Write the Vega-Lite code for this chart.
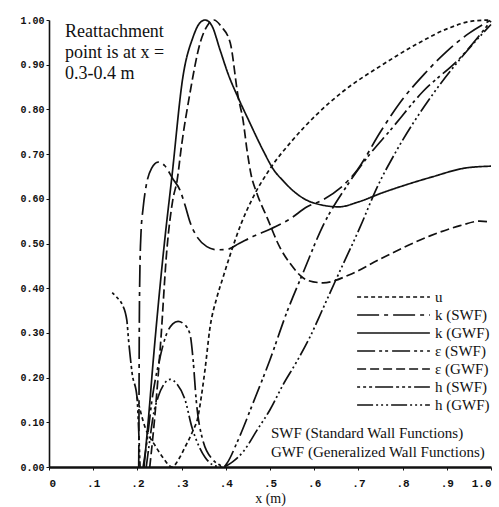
{
  "$schema": "https://vega.github.io/schema/vega-lite/v6.json",
  "width": 442,
  "height": 447,
  "autosize": "none",
  "padding": {"left": 49, "top": 20, "right": 8, "bottom": 40},
  "background": "white",
  "config": {
    "view": {"stroke": null},
    "axis": {"grid": false, "domainColor": "#111", "tickColor": "#111", "labelColor": "#111", "titleColor": "#111"}
  },
  "layer": [
    {
      "data": {
        "values": [
          {"series": "u", "x": 0.199, "y": 0.157}, {"series": "u", "x": 0.217, "y": 0.09}, {"series": "u", "x": 0.24, "y": 0.048}, {"series": "u", "x": 0.26, "y": 0.018}, {"series": "u", "x": 0.278, "y": 0.0}, {"series": "u", "x": 0.295, "y": 0.02}, {"series": "u", "x": 0.308, "y": 0.045}, {"series": "u", "x": 0.325, "y": 0.08}, {"series": "u", "x": 0.337, "y": 0.112}, {"series": "u", "x": 0.345, "y": 0.16}, {"series": "u", "x": 0.353, "y": 0.218}, {"series": "u", "x": 0.364, "y": 0.31}, {"series": "u", "x": 0.38, "y": 0.38}, {"series": "u", "x": 0.394, "y": 0.425}, {"series": "u", "x": 0.41, "y": 0.475}, {"series": "u", "x": 0.435, "y": 0.545}, {"series": "u", "x": 0.462, "y": 0.604}, {"series": "u", "x": 0.5, "y": 0.667}, {"series": "u", "x": 0.55, "y": 0.73}, {"series": "u", "x": 0.604, "y": 0.787}, {"series": "u", "x": 0.665, "y": 0.84}, {"series": "u", "x": 0.753, "y": 0.899}, {"series": "u", "x": 0.83, "y": 0.945}, {"series": "u", "x": 0.905, "y": 0.982}, {"series": "u", "x": 0.96, "y": 0.998}, {"series": "u", "x": 1.0, "y": 1.0},

          {"series": "k (SWF)", "x": 0.203, "y": 0.0}, {"series": "k (SWF)", "x": 0.2035, "y": 0.1}, {"series": "k (SWF)", "x": 0.204, "y": 0.25}, {"series": "k (SWF)", "x": 0.205, "y": 0.4}, {"series": "k (SWF)", "x": 0.208, "y": 0.52}, {"series": "k (SWF)", "x": 0.213, "y": 0.58}, {"series": "k (SWF)", "x": 0.22, "y": 0.63}, {"series": "k (SWF)", "x": 0.232, "y": 0.668}, {"series": "k (SWF)", "x": 0.247, "y": 0.682}, {"series": "k (SWF)", "x": 0.262, "y": 0.674}, {"series": "k (SWF)", "x": 0.28, "y": 0.645}, {"series": "k (SWF)", "x": 0.296, "y": 0.62}, {"series": "k (SWF)", "x": 0.308, "y": 0.585}, {"series": "k (SWF)", "x": 0.319, "y": 0.548}, {"series": "k (SWF)", "x": 0.337, "y": 0.512}, {"series": "k (SWF)", "x": 0.357, "y": 0.493}, {"series": "k (SWF)", "x": 0.38, "y": 0.486}, {"series": "k (SWF)", "x": 0.403, "y": 0.487}, {"series": "k (SWF)", "x": 0.43, "y": 0.5}, {"series": "k (SWF)", "x": 0.462, "y": 0.516}, {"series": "k (SWF)", "x": 0.5, "y": 0.532}, {"series": "k (SWF)", "x": 0.545, "y": 0.555}, {"series": "k (SWF)", "x": 0.584, "y": 0.582}, {"series": "k (SWF)", "x": 0.62, "y": 0.598}, {"series": "k (SWF)", "x": 0.66, "y": 0.625}, {"series": "k (SWF)", "x": 0.697, "y": 0.664}, {"series": "k (SWF)", "x": 0.75, "y": 0.75}, {"series": "k (SWF)", "x": 0.794, "y": 0.815}, {"series": "k (SWF)", "x": 0.85, "y": 0.88}, {"series": "k (SWF)", "x": 0.9, "y": 0.93}, {"series": "k (SWF)", "x": 0.95, "y": 0.97}, {"series": "k (SWF)", "x": 1.0, "y": 1.0},

          {"series": "k (GWF)", "x": 0.215, "y": 0.0}, {"series": "k (GWF)", "x": 0.226, "y": 0.12}, {"series": "k (GWF)", "x": 0.236, "y": 0.24}, {"series": "k (GWF)", "x": 0.246, "y": 0.35}, {"series": "k (GWF)", "x": 0.261, "y": 0.5}, {"series": "k (GWF)", "x": 0.278, "y": 0.649}, {"series": "k (GWF)", "x": 0.303, "y": 0.873}, {"series": "k (GWF)", "x": 0.326, "y": 0.962}, {"series": "k (GWF)", "x": 0.34, "y": 0.992}, {"series": "k (GWF)", "x": 0.353, "y": 1.0}, {"series": "k (GWF)", "x": 0.368, "y": 0.988}, {"series": "k (GWF)", "x": 0.387, "y": 0.933}, {"series": "k (GWF)", "x": 0.405, "y": 0.88}, {"series": "k (GWF)", "x": 0.428, "y": 0.826}, {"series": "k (GWF)", "x": 0.452, "y": 0.775}, {"series": "k (GWF)", "x": 0.484, "y": 0.709}, {"series": "k (GWF)", "x": 0.509, "y": 0.664}, {"series": "k (GWF)", "x": 0.53, "y": 0.64}, {"series": "k (GWF)", "x": 0.55, "y": 0.62}, {"series": "k (GWF)", "x": 0.595, "y": 0.592}, {"series": "k (GWF)", "x": 0.656, "y": 0.582}, {"series": "k (GWF)", "x": 0.7, "y": 0.593}, {"series": "k (GWF)", "x": 0.753, "y": 0.613}, {"series": "k (GWF)", "x": 0.81, "y": 0.632}, {"series": "k (GWF)", "x": 0.867, "y": 0.649}, {"series": "k (GWF)", "x": 0.943, "y": 0.669}, {"series": "k (GWF)", "x": 1.0, "y": 0.673},

          {"series": "ε (SWF)", "x": 0.213, "y": 0.0}, {"series": "ε (SWF)", "x": 0.222, "y": 0.06}, {"series": "ε (SWF)", "x": 0.233, "y": 0.15}, {"series": "ε (SWF)", "x": 0.25, "y": 0.24}, {"series": "ε (SWF)", "x": 0.267, "y": 0.3}, {"series": "ε (SWF)", "x": 0.28, "y": 0.32}, {"series": "ε (SWF)", "x": 0.292, "y": 0.326}, {"series": "ε (SWF)", "x": 0.305, "y": 0.32}, {"series": "ε (SWF)", "x": 0.319, "y": 0.297}, {"series": "ε (SWF)", "x": 0.326, "y": 0.24}, {"series": "ε (SWF)", "x": 0.333, "y": 0.15}, {"series": "ε (SWF)", "x": 0.348, "y": 0.06}, {"series": "ε (SWF)", "x": 0.371, "y": 0.016}, {"series": "ε (SWF)", "x": 0.387, "y": 0.004}, {"series": "ε (SWF)", "x": 0.395, "y": 0.0}, {"series": "ε (SWF)", "x": 0.403, "y": 0.009}, {"series": "ε (SWF)", "x": 0.425, "y": 0.054}, {"series": "ε (SWF)", "x": 0.462, "y": 0.144}, {"series": "ε (SWF)", "x": 0.5, "y": 0.24}, {"series": "ε (SWF)", "x": 0.538, "y": 0.346}, {"series": "ε (SWF)", "x": 0.575, "y": 0.435}, {"series": "ε (SWF)", "x": 0.62, "y": 0.54}, {"series": "ε (SWF)", "x": 0.674, "y": 0.629}, {"series": "ε (SWF)", "x": 0.726, "y": 0.7}, {"series": "ε (SWF)", "x": 0.771, "y": 0.752}, {"series": "ε (SWF)", "x": 0.846, "y": 0.84}, {"series": "ε (SWF)", "x": 0.93, "y": 0.915}, {"series": "ε (SWF)", "x": 1.0, "y": 0.998},

          {"series": "ε (GWF)", "x": 0.228, "y": 0.0}, {"series": "ε (GWF)", "x": 0.24, "y": 0.12}, {"series": "ε (GWF)", "x": 0.252, "y": 0.27}, {"series": "ε (GWF)", "x": 0.267, "y": 0.49}, {"series": "ε (GWF)", "x": 0.28, "y": 0.597}, {"series": "ε (GWF)", "x": 0.29, "y": 0.642}, {"series": "ε (GWF)", "x": 0.3, "y": 0.72}, {"series": "ε (GWF)", "x": 0.319, "y": 0.837}, {"series": "ε (GWF)", "x": 0.342, "y": 0.949}, {"series": "ε (GWF)", "x": 0.36, "y": 0.99}, {"series": "ε (GWF)", "x": 0.373, "y": 1.0}, {"series": "ε (GWF)", "x": 0.39, "y": 0.985}, {"series": "ε (GWF)", "x": 0.41, "y": 0.949}, {"series": "ε (GWF)", "x": 0.428, "y": 0.828}, {"series": "ε (GWF)", "x": 0.439, "y": 0.776}, {"series": "ε (GWF)", "x": 0.448, "y": 0.709}, {"series": "ε (GWF)", "x": 0.457, "y": 0.655}, {"series": "ε (GWF)", "x": 0.47, "y": 0.613}, {"series": "ε (GWF)", "x": 0.493, "y": 0.559}, {"series": "ε (GWF)", "x": 0.523, "y": 0.49}, {"series": "ε (GWF)", "x": 0.545, "y": 0.456}, {"series": "ε (GWF)", "x": 0.584, "y": 0.418}, {"series": "ε (GWF)", "x": 0.62, "y": 0.412}, {"series": "ε (GWF)", "x": 0.68, "y": 0.43}, {"series": "ε (GWF)", "x": 0.749, "y": 0.465}, {"series": "ε (GWF)", "x": 0.862, "y": 0.517}, {"series": "ε (GWF)", "x": 0.93, "y": 0.54}, {"series": "ε (GWF)", "x": 0.975, "y": 0.55}, {"series": "ε (GWF)", "x": 1.0, "y": 0.548},

          {"series": "h (SWF)", "x": 0.143, "y": 0.39}, {"series": "h (SWF)", "x": 0.155, "y": 0.378}, {"series": "h (SWF)", "x": 0.165, "y": 0.365}, {"series": "h (SWF)", "x": 0.176, "y": 0.329}, {"series": "h (SWF)", "x": 0.18, "y": 0.284}, {"series": "h (SWF)", "x": 0.184, "y": 0.245}, {"series": "h (SWF)", "x": 0.188, "y": 0.21}, {"series": "h (SWF)", "x": 0.199, "y": 0.157}, {"series": "h (SWF)", "x": 0.203, "y": 0.08}, {"series": "h (SWF)", "x": 0.206, "y": 0.0},

          {"series": "h (GWF)", "x": 0.22, "y": 0.0}, {"series": "h (GWF)", "x": 0.228, "y": 0.06}, {"series": "h (GWF)", "x": 0.235, "y": 0.11}, {"series": "h (GWF)", "x": 0.247, "y": 0.157}, {"series": "h (GWF)", "x": 0.26, "y": 0.185}, {"series": "h (GWF)", "x": 0.274, "y": 0.196}, {"series": "h (GWF)", "x": 0.29, "y": 0.185}, {"series": "h (GWF)", "x": 0.308, "y": 0.15}, {"series": "h (GWF)", "x": 0.323, "y": 0.09}, {"series": "h (GWF)", "x": 0.34, "y": 0.045}, {"series": "h (GWF)", "x": 0.353, "y": 0.022}, {"series": "h (GWF)", "x": 0.37, "y": 0.005}, {"series": "h (GWF)", "x": 0.39, "y": 0.0}, {"series": "h (GWF)", "x": 0.416, "y": 0.012}, {"series": "h (GWF)", "x": 0.44, "y": 0.035}, {"series": "h (GWF)", "x": 0.471, "y": 0.083}, {"series": "h (GWF)", "x": 0.5, "y": 0.128}, {"series": "h (GWF)", "x": 0.53, "y": 0.185}, {"series": "h (GWF)", "x": 0.56, "y": 0.235}, {"series": "h (GWF)", "x": 0.59, "y": 0.29}, {"series": "h (GWF)", "x": 0.62, "y": 0.355}, {"series": "h (GWF)", "x": 0.652, "y": 0.425}, {"series": "h (GWF)", "x": 0.704, "y": 0.537}, {"series": "h (GWF)", "x": 0.742, "y": 0.625}, {"series": "h (GWF)", "x": 0.787, "y": 0.709}, {"series": "h (GWF)", "x": 0.862, "y": 0.825}, {"series": "h (GWF)", "x": 0.945, "y": 0.93}, {"series": "h (GWF)", "x": 1.0, "y": 0.99}
        ]
      },
      "mark": {"type": "line", "interpolate": "monotone", "color": "#111", "strokeWidth": 1.7},
      "encoding": {
        "x": {
          "field": "x", "type": "quantitative",
          "scale": {"domain": [0, 1], "nice": false, "zero": false},
          "axis": {
            "values": [0, 0.1, 0.2, 0.3, 0.4, 0.5, 0.6, 0.7, 0.8, 0.9, 1.0],
            "labelExpr": "datum.value == 0 ? '0' : (datum.value == 1 ? '1.0' : replace(format(datum.value, '.1f'), '0.', '.'))",
            "labelFont": "Liberation Mono", "labelFontSize": 11, "labelFontWeight": "bold",
            "labelPadding": 7, "tickSize": 3, "domainWidth": 2.5,
            "title": "x (m)", "titleFont": "Liberation Serif", "titleFontSize": 14, "titleFontWeight": "normal", "titlePadding": 3
          }
        },
        "y": {
          "field": "y", "type": "quantitative",
          "scale": {"domain": [0, 1], "nice": false, "zero": false},
          "axis": {
            "values": [0, 0.1, 0.2, 0.3, 0.4, 0.5, 0.6, 0.7, 0.8, 0.9, 1.0],
            "format": ".2f",
            "labelFont": "Liberation Mono", "labelFontSize": 10, "labelFontWeight": "bold",
            "labelPadding": 2, "tickSize": 3, "domainWidth": 1.6,
            "title": null
          }
        },
        "strokeDash": {
          "field": "series", "type": "nominal",
          "scale": {
            "domain": ["u", "k (SWF)", "k (GWF)", "ε (SWF)", "ε (GWF)", "h (SWF)", "h (GWF)"],
            "range": [[4, 3], [22, 5, 4, 5], [1, 0], [18, 4, 3, 3, 3, 4], [9, 4], [3, 3, 3, 3, 3, 3, 18, 3], [16, 3, 2, 3, 2, 3, 2, 3]]
          },
          "legend": {
            "orient": "none", "legendX": 307, "legendY": 268, "title": null,
            "symbolType": "stroke", "symbolSize": 5300, "symbolStrokeWidth": 1.5, "symbolStrokeColor": "#111",
            "clipHeight": 18, "rowPadding": 0, "padding": 0, "labelOffset": 4,
            "labelFont": "Liberation Serif", "labelFontSize": 15, "labelColor": "#111", "labelLimit": 200
          }
        }
      }
    },
    {
      "data": {"values": [{"note": "reattachment"}]},
      "mark": {"type": "text", "text": ["Reattachment", "point is at x =", "0.3-0.4 m"], "font": "Liberation Serif", "fontSize": 18, "lineHeight": 21, "align": "left", "baseline": "alphabetic", "color": "#111"},
      "encoding": {"x": {"datum": 0.036}, "y": {"datum": 0.962}}
    },
    {
      "data": {"values": [{"note": "abbreviations"}]},
      "mark": {"type": "text", "text": ["SWF (Standard Wall Functions)", "GWF (Generalized Wall Functions)"], "font": "Liberation Serif", "fontSize": 15, "lineHeight": 19, "align": "left", "baseline": "alphabetic", "color": "#111"},
      "encoding": {"x": {"datum": 0.502}, "y": {"datum": 0.065}}
    }
  ]
}
